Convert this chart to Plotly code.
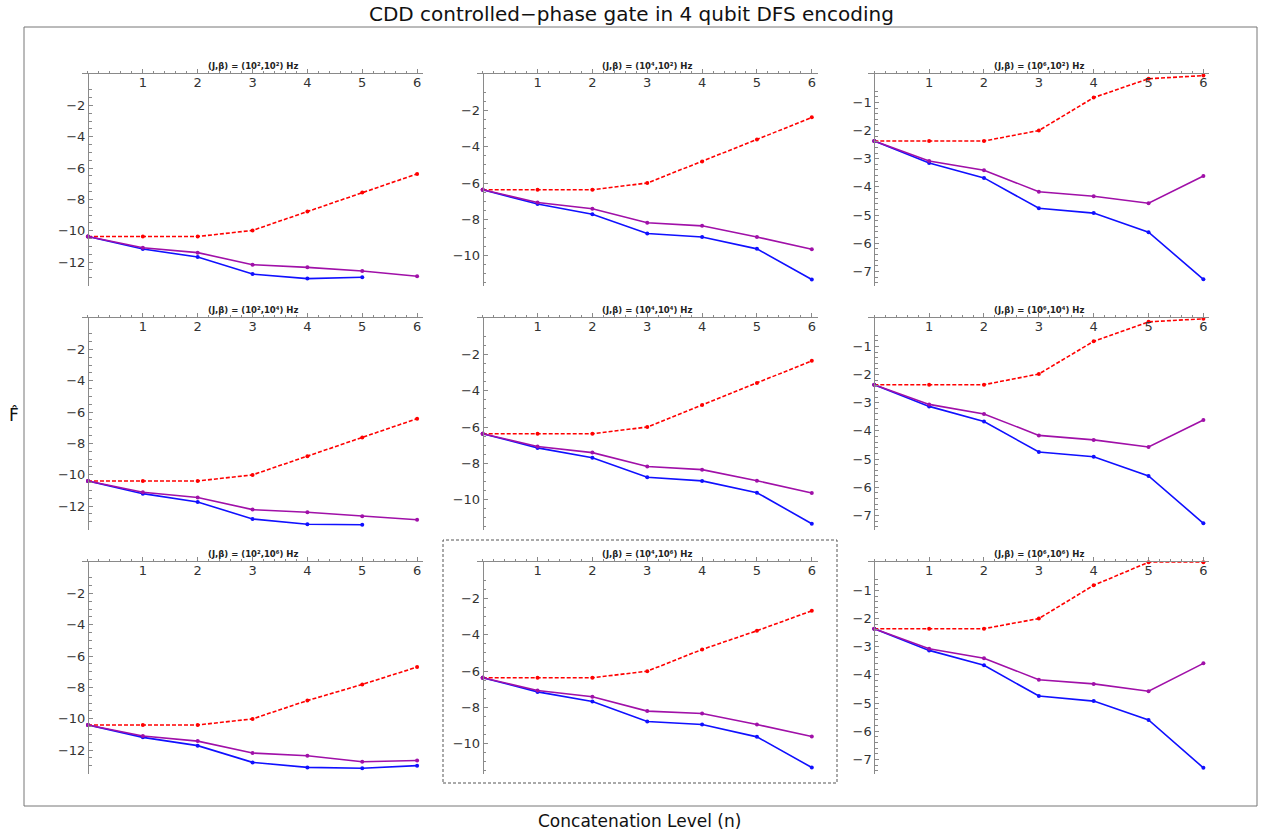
import plotly.graph_objects as go

W, H = 1263, 838

levels = [0, 1, 2, 3, 4, 5, 6]
j_exp = ["²", "⁴", "⁶"]       # columns: J = 10^2, 10^4, 10^6
beta_exp = ["²", "⁴", "⁶"]    # rows: beta = 10^2, 10^4, 10^6

# Row 1 (beta = 10^2)
red_11 = [-10.37, -10.37, -10.37, -9.98, -8.78, -7.56, -6.37]
blue_11 = [-10.37, -11.17, -11.68, -12.77, -13.06, -12.97, None]
purp_11 = [-10.37, -11.09, -11.40, -12.17, -12.34, -12.57, -12.91]
red_12 = [-6.37, -6.37, -6.37, -6.00, -4.81, -3.60, -2.38]
blue_12 = [-6.37, -7.16, -7.72, -8.78, -8.98, -9.63, -11.32]
purp_12 = [-6.37, -7.07, -7.42, -8.19, -8.36, -8.98, -9.65]
red_13 = [-2.37, -2.37, -2.37, -2.00, -0.83, -0.16, -0.05]
blue_13 = [-2.37, -3.15, -3.68, -4.76, -4.93, -5.61, -7.28]
purp_13 = [-2.37, -3.08, -3.41, -4.17, -4.33, -4.58, -3.61]

# Row 2 (beta = 10^4)
red_21 = [-10.40, -10.40, -10.40, -10.01, -8.82, -7.62, -6.42]
blue_21 = [-10.40, -11.21, -11.74, -12.83, -13.16, -13.20, None]
purp_21 = [-10.40, -11.12, -11.46, -12.23, -12.40, -12.66, -12.88]
red_22 = [-6.37, -6.37, -6.37, -6.00, -4.79, -3.57, -2.35]
blue_22 = [-6.37, -7.15, -7.69, -8.77, -8.97, -9.62, -11.33]
purp_22 = [-6.37, -7.07, -7.41, -8.18, -8.35, -8.96, -9.64]
red_23 = [-2.36, -2.36, -2.36, -1.98, -0.82, -0.13, -0.02]
blue_23 = [-2.36, -3.13, -3.67, -4.75, -4.92, -5.60, -7.28]
purp_23 = [-2.36, -3.06, -3.40, -4.16, -4.32, -4.57, -3.61]

# Row 3 (beta = 10^6)
red_31 = [-10.40, -10.40, -10.40, -10.01, -8.84, -7.81, -6.70]
blue_31 = [-10.40, -11.19, -11.72, -12.79, -13.11, -13.16, -13.00]
purp_31 = [-10.40, -11.10, -11.43, -12.19, -12.37, -12.75, -12.67]
red_32 = [-6.37, -6.37, -6.37, -6.01, -4.81, -3.78, -2.68]
blue_32 = [-6.37, -7.15, -7.68, -8.78, -8.95, -9.63, -11.32]
purp_32 = [-6.37, -7.07, -7.42, -8.21, -8.34, -8.95, -9.61]
red_33 = [-2.36, -2.36, -2.36, -2.00, -0.82, 0.0, 0.0]
blue_33 = [-2.36, -3.13, -3.66, -4.75, -4.93, -5.60, -7.30]
purp_33 = [-2.36, -3.07, -3.41, -4.17, -4.32, -4.58, -3.59]

panels = [
    [(red_11, blue_11, purp_11), (red_12, blue_12, purp_12), (red_13, blue_13, purp_13)],
    [(red_21, blue_21, purp_21), (red_22, blue_22, purp_22), (red_23, blue_23, purp_23)],
    [(red_31, blue_31, purp_31), (red_32, blue_32, purp_32), (red_33, blue_33, purp_33)],
]

x_ticks = [1, 2, 3, 4, 5, 6]
y_ticks_col = [
    [-2, -4, -6, -8, -10, -12],
    [-2, -4, -6, -8, -10],
    [-1, -2, -3, -4, -5, -6, -7],
]
y_minor_col = [0.5, 0.5, 0.2]
y_range_col = [[-13.5, 0], [-11.65, 0], [-7.5, 0]]
x_range = [-0.11, 6.11]

# layout geometry (pixels)
col_x0_px = [88.0, 482.7, 874.3]
unit_px = 54.85
row_top_px = [74.2, 318.2, 562.2]
row_h_px = 211.3

AX = "#8a8a8a"
TXT = "#333333"

fig = go.Figure()
layout = dict(
    width=W, height=H,
    margin=dict(l=0, r=0, t=0, b=0),
    paper_bgcolor="white", plot_bgcolor="white",
    showlegend=False,
    font=dict(family="DejaVu Sans", color=TXT),
)
annotations = []
shapes = []

series_style = [
    dict(color="#ff0000", dash="4px,2px"),
    dict(color="#1010ff", dash="solid"),
    dict(color="#a010a8", dash="solid"),
]

k = 0
for r in range(3):
    for c in range(3):
        k += 1
        xa = "xaxis" if k == 1 else f"xaxis{k}"
        ya = "yaxis" if k == 1 else f"yaxis{k}"
        xr = "x" if k == 1 else f"x{k}"
        yr = "y" if k == 1 else f"y{k}"
        x0 = col_x0_px[c]
        dl = x0 + x_range[0] * unit_px
        dr = x0 + x_range[1] * unit_px
        top = row_top_px[r]
        bot = top + row_h_px
        layout[xa] = dict(
            domain=[dl / W, dr / W], range=x_range, anchor=yr, side="top",
            showline=True, linecolor=AX, linewidth=1,
            ticks="outside", ticklen=4, tickcolor=AX, tickwidth=1,
            tickvals=x_ticks, ticktext=[str(v) for v in x_ticks],
            ticklabelposition="inside", ticklabelstandoff=3,
            tickfont=dict(size=13, color=TXT),
            minor=dict(dtick=0.2, tick0=0, ticks="outside", ticklen=2.5, tickcolor=AX),
            showgrid=False, zeroline=False, fixedrange=True,
        )
        layout[ya] = dict(
            domain=[1 - bot / H, 1 - top / H], range=y_range_col[c],
            anchor="free", position=x0 / W,
            showline=True, linecolor=AX, linewidth=1,
            ticks="inside", ticklen=4, tickcolor=AX, tickwidth=1,
            tickvals=y_ticks_col[c], tickfont=dict(size=13, color=TXT),
            minor=dict(dtick=y_minor_col[c], tick0=0, ticks="inside", ticklen=2.5, tickcolor=AX),
            showgrid=False, zeroline=False, fixedrange=True,
        )
        red, blue, purp = panels[r][c]
        for ys, st in zip((red, blue, purp), series_style):
            fig.add_trace(go.Scatter(
                x=levels, y=ys, xaxis=xr, yaxis=yr, mode="lines+markers",
                line=dict(color=st["color"], width=1.6, dash=st["dash"]),
                marker=dict(color=st["color"], size=4),
                cliponaxis=False, connectgaps=False, hoverinfo="skip",
            ))
        annotations.append(dict(
            x=(dl + dr) / 2 / W, y=1 - (top - 8.5) / H, xref="paper", yref="paper",
            text=f"<b>(J,β) = (10{j_exp[c]},10{beta_exp[r]}) Hz</b>",
            showarrow=False, xanchor="center", yanchor="middle",
            font=dict(size=8.5, color="#222222", family="DejaVu Sans"),
        ))

# outer frame
shapes.append(dict(type="rect", xref="paper", yref="paper",
                   x0=24 / W, x1=1257 / W, y0=1 - 806 / H, y1=1 - 27 / H,
                   line=dict(color="#777777", width=1)))
# dashed highlight box
shapes.append(dict(type="rect", xref="paper", yref="paper",
                   x0=443 / W, x1=837 / W, y0=1 - 783 / H, y1=1 - 540 / H,
                   line=dict(color="#555555", width=1, dash="3px,2px")))

annotations.append(dict(x=631 / W, y=1 - 14 / H, xref="paper", yref="paper",
                        text="CDD controlled−phase gate in 4 qubit DFS encoding",
                        showarrow=False, xanchor="center", yanchor="middle",
                        font=dict(size=20, color="#111111", family="DejaVu Sans")))
annotations.append(dict(x=640 / W, y=1 - 821 / H, xref="paper", yref="paper",
                        text="Concatenation Level (n)",
                        showarrow=False, xanchor="center", yanchor="middle",
                        font=dict(size=17, color="#111111", family="DejaVu Sans")))
annotations.append(dict(x=14 / W, y=1 - 415 / H, xref="paper", yref="paper",
                        text="F̂",
                        showarrow=False, xanchor="center", yanchor="middle",
                        font=dict(size=17, color="#111111", family="DejaVu Sans")))

layout["annotations"] = annotations
layout["shapes"] = shapes
fig.update_layout(**layout)
fig.write_html("out.html")
